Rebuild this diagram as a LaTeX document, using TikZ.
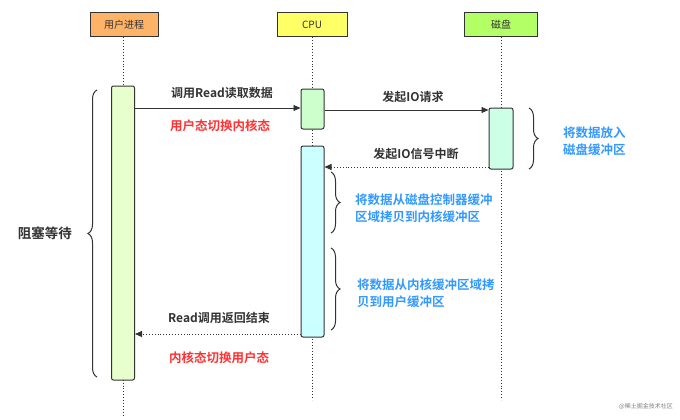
\documentclass[tikz,border=0pt]{standalone}
\usepackage{fontspec}
\setmainfont{Noto Sans CJK SC}
\newfontfamily\cjkb{Noto Sans CJK SC Bold}
\usetikzlibrary{arrows.meta,decorations.pathreplacing}
\definecolor{hdrorange}{HTML}{FFB366}
\definecolor{hdryellow}{HTML}{FFFF66}
\definecolor{hdrlime}{HTML}{B3FF66}
\definecolor{actuser}{HTML}{E6FFCC}
\definecolor{actcpua}{HTML}{CCFFCC}
\definecolor{actcpub}{HTML}{CCFFFF}
\definecolor{actdisk}{HTML}{CCFFE6}
\definecolor{txtblue}{HTML}{3399FF}
\definecolor{txtred}{HTML}{FF3333}
\definecolor{linegray}{HTML}{333333}
\tikzset{
  hdr/.style={draw=linegray, line width=1pt, minimum width=68pt, minimum height=24pt, inner sep=0pt, font=\fontsize{10}{11}\selectfont, text=linegray},
  actbox/.style={draw=linegray, line width=1pt, rounded corners=2pt, minimum width=23pt, inner sep=0pt},
  life/.style={draw=linegray, line width=0.9pt, dotted},
  msg/.style={draw=linegray, line width=0.9pt, -{Triangle[length=7pt,width=6pt]}},
  rmsg/.style={draw=linegray, line width=0.9pt, dotted, -{Triangle[length=7pt,width=6pt]}},
  lbl/.style={font=\cjkb\fontsize{12}{13}\selectfont, text=linegray, inner sep=0pt},
  redlbl/.style={font=\cjkb\fontsize{12.5}{13}\selectfont, text=txtred, inner sep=0pt},
  bluelbl/.style={font=\cjkb\fontsize{12.5}{16.5}\selectfont, text=txtblue, inner sep=0pt, align=left, anchor=west},
  brc/.style={draw=linegray, line width=1pt, decorate, decoration={brace, amplitude=9pt}},
}
\begin{document}
\begin{tikzpicture}[x=1pt,y=-1pt]
\useasboundingbox[fill=white] (0,0) rectangle (680,420);
% headers
\node[hdr, fill=hdrorange] (hu) at (124,25) {用户进程};
\node[hdr, fill=hdryellow, minimum width=70pt] (hc) at (312,25) {CPU};
\node[hdr, fill=hdrlime, minimum width=73pt] (hd) at (501,25) {磁盘};
% lifelines
\coordinate (ue) at (123,415);
\coordinate (ce) at (312,400);
\coordinate (de) at (501,400);
\draw[life] (hu.south -| 123,0) -- (ue);
\draw[life] (hc.south) -- (ce);
\draw[life] (hd.south) -- (de);
% activations
\node[actbox, fill=actuser, minimum height=294pt] (au) at (123,233) {};
\node[actbox, fill=actcpua, minimum height=40pt] (ac1) at (312.5,109) {};
\node[actbox, fill=actcpub, minimum height=191pt] (ac2) at (312.5,241.5) {};
\node[actbox, fill=actdisk, minimum height=61pt, minimum width=24pt] (ad) at (501,138.5) {};
% messages
\draw[msg] (au.east |- 0,108) -- (ac1.west |- 0,108);
\node[lbl] (l1) at (222,93) {调用Read读取数据};
\node[redlbl] (r1) at (220,126) {用户态切换内核态};
\draw[msg] (ac1.east |- 0,110) -- (ad.west |- 0,110);
\node[lbl] (l2) at (413,97) {发起IO请求};
\draw[rmsg] (ad.west |- 0,167) -- (ac2.east |- 0,167);
\node[lbl] (l3) at (416,154) {发起IO信号中断};
\draw[rmsg] (ac2.west |- 0,334) -- (au.east |- 0,334);
\node[lbl] (l4) at (219,318) {Read调用返回结束};
\node[redlbl] (r2) at (219,358) {内核态切换用户态};
% braces
\coordinate (b1a) at (529,108);
\coordinate (b1b) at (529,169);
\draw[brc] (b1a) -- (b1b);
\node[bluelbl] (t1) at (563,141) {将数据放入\\磁盘缓冲区};
\coordinate (b2a) at (331,172);
\coordinate (b2b) at (331,233);
\draw[brc] (b2a) -- (b2b);
\node[bluelbl] (t2) at (355,208) {将数据从磁盘控制器缓冲\\区域拷贝到内核缓冲区};
\coordinate (b3a) at (331,248);
\coordinate (b3b) at (331,330);
\draw[brc] (b3a) -- (b3b);
\node[bluelbl] (t3) at (357,293) {将数据从内核缓冲区域拷\\贝到用户缓冲区};
\coordinate (b4a) at (97,377);
\coordinate (b4b) at (97,90);
\draw[brc] (b4a) -- (b4b);
\node[lbl, font=\cjkb\fontsize{13.5}{14}\selectfont, anchor=east] (t4) at (72,233) {阻塞等待};
% watermark
\node[font=\fontsize{6}{7}\selectfont, text=gray, anchor=east, inner sep=0pt] (wm) at (673,406) {@稀土掘金技术社区};
\end{tikzpicture}
\end{document}
